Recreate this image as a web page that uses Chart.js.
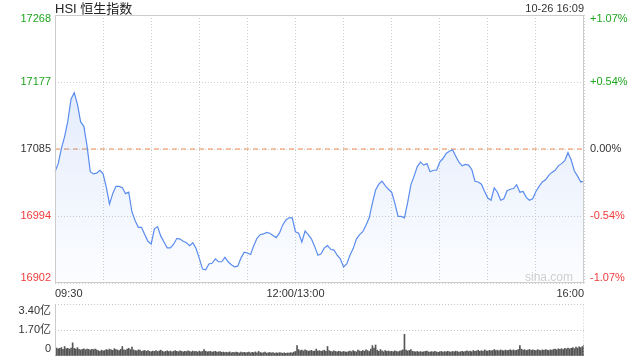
<!DOCTYPE html>
<html>
<head>
<meta charset="utf-8">
<title>HSI 恒生指数</title>
<script src="https://cdn.jsdelivr.net/npm/chart.js@4.4.1/dist/chart.umd.min.js"></script>
<style>
    html, body { margin: 0; padding: 0; background: #fff; }
    body {
        width: 640px; height: 360px; position: relative; overflow: hidden;
        font-family: "Liberation Sans", Arial, "Noto Sans CJK SC", sans-serif;
    }
    #title { position: absolute; left: 55px; top: 2px; font-size: 13px; line-height: 14px; color: #222; }
    #stamp { position: absolute; right: 56px; top: 2px; font-size: 11px; line-height: 12px; color: #333; }
    #mark { position: absolute; right: 67px; top: 270px; font-size: 12px; line-height: 14px; color: #cfcfcf; }
    #priceBox { position: absolute; left: 0; top: 0; width: 640px; height: 300px; }
    #volBox { position: absolute; left: 0; top: 300px; width: 640px; height: 60px; }
</style>
</head>
<body>
<div id="priceBox"><canvas id="priceChart" width="640" height="300"></canvas></div>
<div id="volBox"><canvas id="volChart" width="640" height="60"></canvas></div>
<div id="title">HSI 恒生指数</div>
<div id="stamp">10-26 16:09</div>
<div id="mark">sina.com</div>
<script>
// Values
const prevClose = 17085;
const priceTicks = [16902, 16993.5, 17085, 17176.5, 17268];
const priceTickLabels = ['16902', '16994', '17085', '17177', '17268'];
const pctTickLabels = ['-1.07%', '-0.54%', '0.00%', '+0.54%', '+1.07%'];
const timeTicks = ['09:30', '12:00/13:00', '16:00'];
const volumeTicks = [0, 1.7, 3.4];
const volumeTickLabels = ['0', '1.70亿', '3.40亿'];

// index level every 2 minutes, 09:30 .. 16:00
const prices = [
    17054, 17065, 17086, 17102, 17123, 17153, 17162, 17146, 17122, 17116,
    17089, 17054, 17051, 17052, 17056, 17051, 17033, 17010, 17024, 17034,
    17034, 17032, 17024, 17026, 16999, 16987, 16978, 16978, 16968, 16959,
    16955, 16976, 16979, 16966, 16958, 16950, 16950, 16955, 16963, 16962,
    16959, 16957, 16953, 16957, 16949, 16936, 16921, 16920, 16928, 16929,
    16935, 16931, 16931, 16937, 16931, 16927, 16924, 16925, 16936, 16944,
    16943, 16941, 16953, 16963, 16968, 16969, 16971, 16970, 16967, 16964,
    16970, 16981, 16988, 16991, 16991, 16972, 16970, 16958, 16973, 16968,
    16962, 16952, 16940, 16942, 16950, 16953, 16948, 16947, 16940, 16935,
    16924, 16928, 16940, 16949, 16962, 16968, 16972, 16981, 16991, 17011,
    17029, 17037, 17041, 17035, 17030, 17026, 17011, 16993, 16993, 16991,
    17012, 17036, 17048, 17061, 17067, 17063, 17065, 17054, 17056, 17056,
    17067, 17072, 17079, 17082, 17084, 17075, 17067, 17062, 17064, 17063,
    17057, 17041, 17040, 17037, 17027, 17018, 17015, 17032, 17026, 17015,
    17017, 17028, 17030, 17031, 17036, 17026, 17027, 17019, 17015, 17017,
    17027, 17034, 17040, 17043, 17049, 17053, 17056, 17062, 17065, 17069,
    17080, 17070, 17055, 17048, 17040, 17041
];

// turnover per minute, in 亿
const volumes = [
    0.58, 0.52, 0.47, 0.50, 0.55, 0.44, 0.62, 0.48, 0.50, 0.45, 0.52, 0.86, 0.50, 0.46, 0.55,
    0.44, 0.40, 0.43, 0.47, 0.41, 0.45, 0.43, 0.39, 0.44, 0.42, 0.46, 0.40, 0.35, 0.30, 0.38,
    0.33, 0.36, 0.42, 0.38, 0.45, 0.40, 0.37, 0.48, 0.42, 0.39, 0.36, 0.44, 0.62, 0.41, 0.38,
    0.45, 0.50, 0.42, 0.58, 0.40, 0.36, 0.34, 0.40, 0.38, 0.30, 0.33, 0.36, 0.31, 0.35, 0.30,
    0.28, 0.32, 0.30, 0.35, 0.29, 0.33, 0.38, 0.31, 0.27, 0.30, 0.34, 0.29, 0.32, 0.28, 0.31,
    0.35, 0.30, 0.28, 0.33, 0.30, 0.27, 0.31, 0.29, 0.34, 0.30, 0.27, 0.32, 0.29, 0.30, 0.26,
    0.32, 0.28, 0.30, 0.42, 0.31, 0.27, 0.29, 0.30, 0.26, 0.28, 0.31, 0.25, 0.27, 0.29, 0.24,
    0.26, 0.22, 0.25, 0.23, 0.27, 0.21, 0.24, 0.22, 0.26, 0.23, 0.20, 0.25, 0.22, 0.24, 0.21,
    0.23, 0.26, 0.20, 0.24, 0.22, 0.27, 0.21, 0.30, 0.23, 0.20, 0.22, 0.25, 0.19, 0.21, 0.23,
    0.20, 0.22, 0.18, 0.21, 0.19, 0.22, 0.20, 0.18, 0.21, 0.17, 0.20, 0.19, 0.22, 0.20, 0.25,
    0.30, 0.68, 0.42, 0.35, 0.38, 0.33, 0.40, 0.36, 0.31, 0.34, 0.37, 0.30, 0.33, 0.45, 0.32,
    0.35, 0.30, 0.34, 0.38, 0.31, 0.62, 0.36, 0.30, 0.28, 0.33, 0.30, 0.27, 0.31, 0.29, 0.26,
    0.30, 0.27, 0.25, 0.29, 0.32, 0.28, 0.35, 0.30, 0.27, 0.38, 0.33, 0.30, 0.36, 0.32, 0.40,
    0.35, 0.30, 0.45, 0.68, 0.52, 0.72, 0.38, 0.31, 0.42, 0.34, 0.28, 0.36, 0.30, 0.33, 0.29,
    0.31, 0.28, 0.34, 0.30, 0.27, 0.32, 0.35, 0.40, 1.42, 0.38, 0.33, 0.36, 0.42, 0.31, 0.29,
    0.27, 0.30, 0.26, 0.29, 0.25, 0.28, 0.30, 0.32, 0.27, 0.25, 0.29, 0.26, 0.31, 0.27, 0.24,
    0.28, 0.30, 0.26, 0.29, 0.27, 0.31, 0.28, 0.25, 0.30, 0.27, 0.32, 0.29, 0.26, 0.28, 0.31,
    0.27, 0.30, 0.34, 0.29, 0.32, 0.28, 0.36, 0.30, 0.33, 0.38, 0.31, 0.35, 0.30, 0.40, 0.34,
    0.32, 0.37, 0.33, 0.36, 0.42, 0.35, 0.38, 0.33, 0.40, 0.36, 0.34, 0.39, 0.35, 0.37, 0.41,
    0.36, 0.40, 0.35, 0.38, 0.42, 0.68, 0.45, 0.38, 0.41, 0.36, 0.39, 0.43, 0.37, 0.40, 0.38,
    0.36, 0.41, 0.38, 0.35, 0.40, 0.37, 0.42, 0.39, 0.36, 0.40, 0.38, 0.43, 0.45, 0.40, 0.47,
    0.44, 0.48, 0.42, 0.50, 0.46, 0.52, 0.47, 0.50, 0.55, 0.48, 0.58, 0.52, 0.60, 0.55, 0.62,
    0.68
];

const FONT = '"Liberation Sans", Arial, "Noto Sans CJK SC", sans-serif';
const GREEN = '#1ea51e';
const RED = '#f03a3a';
const DARK = '#333333';
const tickColors = [RED, RED, DARK, GREEN, GREEN];

Chart.defaults.font.family = FONT;
Chart.defaults.font.size = 11;

// minute offset from the open -> clock label (lunch break skipped)
function clock(m) {
    if (m === 150) return '12:00/13:00';
    const t = m < 150 ? 570 + m : 780 + (m - 150);
    const h = Math.floor(t / 60), mm = t % 60;
    return String(h).padStart(2, '0') + ':' + String(mm).padStart(2, '0');
}
const priceLabels = prices.map((_, i) => clock(i * 2));
const volumeLabels = volumes.map((_, i) => clock(i));

// frame + edge labels, kept inside the plot area like the original
function edgeText(cfg) {
    return {
        id: 'edgeText',
        afterDraw(chart) {
            const { ctx, chartArea: a } = chart;
            const L = Math.round(a.left) + 0.5, R = Math.round(a.right) - 0.5;
            const T = Math.round(a.top) + 0.5, B = Math.round(a.bottom) - 0.5;
            ctx.save();
            ctx.lineWidth = 1;
            ctx.strokeStyle = '#cccccc';
            ctx.beginPath();
            if (cfg.box) {
                ctx.moveTo(L, T); ctx.lineTo(R, T); ctx.lineTo(R, B); ctx.lineTo(L, B); ctx.closePath();
            } else {
                ctx.moveTo(L, T); ctx.lineTo(L, B);
            }
            ctx.stroke();
            if (!cfg.box) {
                ctx.setLineDash([1, 2]);
                ctx.beginPath(); ctx.moveTo(R, T); ctx.lineTo(R, B); ctx.stroke();
                ctx.setLineDash([]);
            }
            ctx.font = '11px ' + FONT;
            ctx.textBaseline = 'middle';
            cfg.axes.forEach(ax => {
                const scale = chart.scales[ax.scale];
                ctx.textAlign = ax.side === 'left' ? 'right' : 'left';
                const x = ax.side === 'left' ? a.left - 4 : a.right + 6;
                ax.values.forEach((v, i) => {
                    let y = scale.getPixelForValue(v);
                    y = Math.min(Math.max(y, a.top + cfg.inset[0]), a.bottom - cfg.inset[1]);
                    ctx.fillStyle = ax.colors[i];
                    ctx.fillText(ax.labels[i], x, y);
                });
            });
            ctx.restore();
        }
    };
}

const fillGradient = (context) => {
    const area = context.chart.chartArea;
    if (!area) return 'rgba(90,140,238,0.12)';
    const g = context.chart.ctx.createLinearGradient(0, area.top, 0, area.bottom);
    g.addColorStop(0, 'rgba(90,140,238,0.22)');
    g.addColorStop(1, 'rgba(90,140,238,0.02)');
    return g;
};

// Price chart
new Chart(document.getElementById('priceChart'), {
    type: 'line',
    data: {
        labels: priceLabels,
        datasets: [
            {
                data: prices,
                borderColor: '#5a8cee',
                borderWidth: 1.2,
                pointRadius: 0,
                tension: 0,
                fill: 'start',
                backgroundColor: fillGradient
            },
            {
                data: priceLabels.map(() => prevClose),
                borderColor: '#ec8a4c',
                borderWidth: 1,
                borderDash: [5, 4],
                pointRadius: 0,
                fill: false
            }
        ]
    },
    options: {
        responsive: false,
        animation: false,
        events: [],
        layout: { padding: { top: 15, right: 0, bottom: 0, left: 0 } },
        plugins: { legend: { display: false }, tooltip: { enabled: false } },
        scales: {
            x: {
                afterBuildTicks: (s) => {
                    const t = [];
                    for (let i = 0; i < priceLabels.length; i += 15) t.push({ value: i });
                    s.ticks = t;
                },
                afterFit: (s) => { s.height = 17; },
                ticks: {
                    autoSkip: false,
                    maxRotation: 0,
                    align: 'inner',
                    padding: 4,
                    color: '#333',
                    callback: (v) => timeTicks.includes(priceLabels[v]) ? priceLabels[v] : ''
                },
                grid: { color: '#cfcfcf', drawTicks: false },
                border: { display: false, dash: [1, 2] }
            },
            y: {
                position: 'left',
                min: priceTicks[0],
                max: priceTicks[priceTicks.length - 1],
                afterBuildTicks: (s) => { s.ticks = priceTicks.map(v => ({ value: v })); },
                afterFit: (s) => { s.width = 55; },
                ticks: { display: false },
                grid: { color: '#cfcfcf', drawTicks: false },
                border: { display: false, dash: [1, 2] }
            },
            y2: {
                position: 'right',
                min: priceTicks[0],
                max: priceTicks[priceTicks.length - 1],
                afterFit: (s) => { s.width = 56; },
                ticks: { display: false },
                grid: { display: false },
                border: { display: false }
            }
        }
    },
    plugins: [edgeText({
        box: true,
        inset: [4, 5],
        axes: [
            { scale: 'y', side: 'left', values: priceTicks, labels: priceTickLabels, colors: tickColors },
            { scale: 'y2', side: 'right', values: priceTicks, labels: pctTickLabels, colors: tickColors }
        ]
    })]
});

// Volume chart
new Chart(document.getElementById('volChart'), {
    type: 'bar',
    data: {
        labels: volumeLabels,
        datasets: [{
            data: volumes,
            backgroundColor: '#555555',
            barThickness: 1
        }]
    },
    options: {
        responsive: false,
        animation: false,
        events: [],
        layout: { padding: { top: 4, right: 56, bottom: 4, left: 0 } },
        plugins: { legend: { display: false }, tooltip: { enabled: false } },
        scales: {
            x: { display: false, offset: false },
            y: {
                min: 0,
                max: volumeTicks[volumeTicks.length - 1],
                afterBuildTicks: (s) => { s.ticks = volumeTicks.map(v => ({ value: v })); },
                afterFit: (s) => { s.width = 55; },
                ticks: { display: false },
                grid: {
                    drawTicks: false,
                    color: (c) => c.tick && c.tick.value === 0 ? 'rgba(0,0,0,0)' : '#c8c8c8'
                },
                border: { display: false, dash: [1, 2] }
            }
        }
    },
    plugins: [edgeText({
        box: false,
        inset: [7, 7],
        axes: [
            { scale: 'y', side: 'left', values: volumeTicks, labels: volumeTickLabels, colors: [DARK, DARK, DARK] }
        ]
    })]
});
</script>
</body>
</html>
